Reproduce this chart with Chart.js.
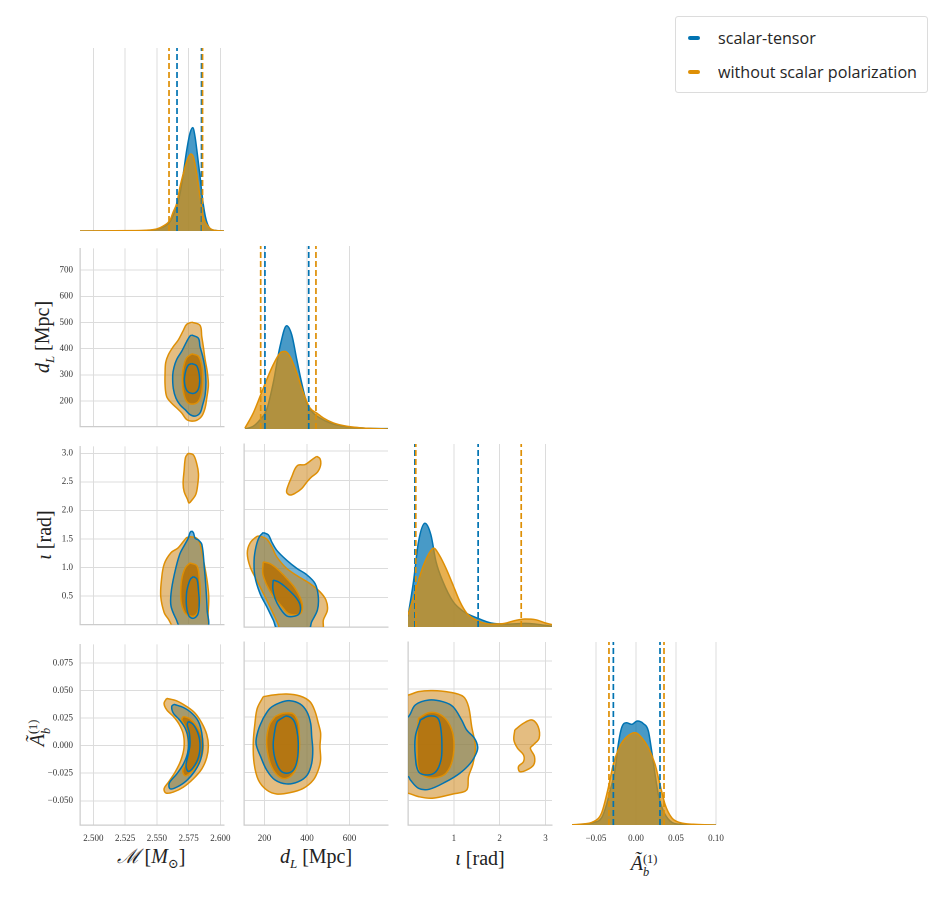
<!DOCTYPE html>
<html><head><meta charset="utf-8">
<script src="https://cdn.jsdelivr.net/npm/chart.js@4.4.1/dist/chart.umd.min.js"></script>
<style>
body{margin:0;background:#fff;width:941px;height:900px;position:relative;overflow:hidden}
canvas{position:absolute}
.lab{position:absolute;font-family:'Liberation Serif','DejaVu Serif',serif;font-size:20px;color:#222;white-space:nowrap;line-height:1}
.rot{transform:translate(-50%,-50%) rotate(-90deg)}
.hor{transform:translate(-50%,-50%)}
.ss{display:inline-block;vertical-align:-0.45em;font-size:0.62em;line-height:1.05;text-align:left}
.ss span{display:block}
#legend{position:absolute;left:675px;top:16px;width:251px;height:75px;border:1px solid #dcdcdc;border-radius:3px;background:#fff}
.li{position:absolute;left:0;height:20px;width:250px}
.sw{position:absolute;left:12px;top:8px;width:12px;height:4px;border-radius:2px}
.lt{position:absolute;left:42px;top:0;font-family:'Open Sans','Noto Sans',sans-serif;font-size:17px;line-height:20px;color:#262626;transform-origin:0 50%;white-space:nowrap}
</style></head><body>
<div id="legend">
  <div class="li" style="top:11px"><span class="sw" style="background:#0173b2"></span><span class="lt" id="lt1">scalar-tensor</span></div>
  <div class="li" style="top:45px"><span class="sw" style="background:#de8f05"></span><span class="lt" id="lt2">without scalar polarization</span></div>
</div>
<div class="lab rot" style="left:44px;top:337px"><i>d</i><sub style="font-size:0.65em"><i>L</i></sub> [Mpc]</div>
<div class="lab rot" style="left:44px;top:535px"><i>ι</i> [rad]</div>
<div class="lab rot" style="left:40px;top:733px"><i>Ã</i><span class="ss"><span>(1)</span><span><i>b</i></span></span></div>
<div class="lab hor" style="left:151px;top:858px"><i>ℳ</i> [<i>M</i><sub style="font-size:0.65em">⊙</sub>]</div>
<div class="lab hor" style="left:316px;top:858px"><i>d</i><sub style="font-size:0.65em"><i>L</i></sub> [Mpc]</div>
<div class="lab hor" style="left:480px;top:858px"><i>ι</i> [rad]</div>
<div class="lab hor" style="left:644px;top:866px"><i>Ã</i><span class="ss"><span>(1)</span><span><i>b</i></span></span></div>
<script>
// ---------------- tick values and labels ----------------
const ticksM = [2.500, 2.525, 2.550, 2.575, 2.600];
const ticksMLabels = ['2.500', '2.525', '2.550', '2.575', '2.600'];
const ticksDx = [200, 400, 600];
const ticksDxLabels = ['200', '400', '600'];
const ticksDy = [200, 300, 400, 500, 600, 700];
const ticksDyLabels = ['200', '300', '400', '500', '600', '700'];
const ticksIx = [1, 2, 3];
const ticksIxLabels = ['1', '2', '3'];
const ticksIy = [0.5, 1.0, 1.5, 2.0, 2.5, 3.0];
const ticksIyLabels = ['0.5', '1.0', '1.5', '2.0', '2.5', '3.0'];
const ticksAx = [-0.05, 0.00, 0.05, 0.10];
const ticksAxLabels = ['\u22120.05', '0.00', '0.05', '0.10'];
const ticksAy = [-0.050, -0.025, 0.000, 0.025, 0.050, 0.075];
const ticksAyLabels = ['\u22120.050', '\u22120.025', '0.000', '0.025', '0.050', '0.075'];

// ---------------- axis ranges ----------------
const rangeM = [2.4895, 2.6029];
const rangeDx = [103.5, 781];
const rangeDy = [102, 783];
const rangeIx = [0, 3.1416];
const rangeIy = [0, 3.12];
const rangeAx = [-0.08, 0.10];
const rangeAy = [-0.072, 0.092];

// ---------------- 1D marginal densities (relative) ----------------
const kdeM_x_blue = [2.4895, 2.5400, 2.5525, 2.5604, 2.5630, 2.5657, 2.5683, 2.5709, 2.5735, 2.5761, 2.5783, 2.5801, 2.5819, 2.5840, 2.5861, 2.5882, 2.5908, 2.5945, 2.6029];
const kdeM_y_blue = [0, 0.002, 0.015, 0.051, 0.087, 0.133, 0.206, 0.315, 0.44, 0.534, 0.565, 0.515, 0.42, 0.30, 0.17, 0.08, 0.024, 0.005, 0];
const kdeM_x_orange = [2.4895, 2.5300, 2.5420, 2.5499, 2.5551, 2.5604, 2.5630, 2.5657, 2.5683, 2.5709, 2.5735, 2.5769, 2.5787, 2.5814, 2.5840, 2.5866, 2.5906, 2.5945, 2.6029];
const kdeM_y_orange = [0, 0.002, 0.004, 0.011, 0.027, 0.06, 0.106, 0.151, 0.242, 0.315, 0.379, 0.421, 0.406, 0.315, 0.188, 0.078, 0.024, 0.005, 0];

const kdeD_x_blue = [108, 147, 179, 210, 241, 273, 304, 328, 352, 375, 399, 430, 461, 508, 571, 681, 781];
const kdeD_y_blue = [0, 0.015, 0.051, 0.105, 0.251, 0.451, 0.564, 0.515, 0.378, 0.251, 0.142, 0.087, 0.06, 0.033, 0.015, 0.004, 0.002];
const kdeD_x_orange = [108, 147, 179, 210, 241, 273, 296, 320, 352, 383, 414, 446, 477, 524, 587, 681, 781];
const kdeD_y_orange = [0.005, 0.087, 0.178, 0.269, 0.351, 0.415, 0.424, 0.396, 0.305, 0.196, 0.115, 0.087, 0.06, 0.033, 0.015, 0.004, 0];

const kdeI_x_blue = [0.0, 0.12, 0.23, 0.37, 0.50, 0.61, 0.76, 0.98, 1.21, 1.51, 1.81, 2.18, 2.55, 2.78, 3.14];
const kdeI_y_blue = [0.058, 0.249, 0.467, 0.567, 0.503, 0.358, 0.249, 0.14, 0.085, 0.049, 0.022, 0.016, 0.02, 0.016, 0.004];
const kdeI_x_orange = [0.0, 0.16, 0.31, 0.46, 0.56, 0.68, 0.83, 0.98, 1.13, 1.28, 1.51, 1.81, 2.11, 2.33, 2.55, 2.78, 3.00, 3.14];
const kdeI_y_orange = [0.067, 0.194, 0.318, 0.403, 0.431, 0.394, 0.32, 0.231, 0.14, 0.076, 0.035, 0.016, 0.02, 0.035, 0.044, 0.04, 0.022, 0.013];

const kdeA_x_blue = [-0.08, -0.07, -0.0533, -0.0429, -0.0367, -0.0325, -0.0263, -0.0221, -0.0179, -0.0117, -0.0054, 0.0017, 0.0092, 0.0154, 0.0196, 0.0238, 0.0279, 0.0342, 0.0425, 0.055, 0.10];
const kdeA_y_blue = [0, 0.003, 0.013, 0.04, 0.113, 0.186, 0.295, 0.441, 0.532, 0.559, 0.55, 0.568, 0.554, 0.514, 0.404, 0.277, 0.168, 0.077, 0.022, 0.004, 0];
const kdeA_x_orange = [-0.08, -0.07, -0.0533, -0.0429, -0.0346, -0.0283, -0.02, -0.0117, -0.0013, 0.0071, 0.0154, 0.0238, 0.03, 0.0363, 0.0446, 0.055, 0.0717, 0.0925, 0.10];
const kdeA_y_orange = [0.001, 0.004, 0.018, 0.067, 0.204, 0.332, 0.432, 0.481, 0.505, 0.477, 0.423, 0.332, 0.222, 0.113, 0.04, 0.013, 0.004, 0.001, 0];

// 90% credible bounds (dashed lines)
const qM_blue = [2.5659, 2.5852], qM_orange = [2.5596, 2.5860];
const qD_blue = [202, 408], qD_orange = [182, 442];
const qI_blue = [0.15, 1.53], qI_orange = [0.17, 2.47];
const qA_blue = [-0.0283, 0.030], qA_orange = [-0.0338, 0.035];

// ---------------- 2D contours ----------------
// M vs dL
const mdOrangeOuter = [[2.5775,501],[2.5840,489],[2.5854,446],[2.5866,408],[2.5880,359],[2.5898,309],[2.5906,260],[2.5893,210],[2.5880,173],[2.5854,142],[2.5814,126],[2.5775,123],[2.5735,129],[2.5696,154],[2.5657,173],[2.5617,191],[2.5578,216],[2.5565,260],[2.5565,309],[2.5570,347],[2.5591,377],[2.5630,408],[2.5669,433],[2.5709,470],[2.5735,493]];
const mdBlueOuter = [[2.5775,452],[2.5827,440],[2.5840,408],[2.5861,371],[2.5880,322],[2.5887,272],[2.5880,222],[2.5861,185],[2.5840,154],[2.5801,142],[2.5761,148],[2.5722,167],[2.5683,185],[2.5651,210],[2.5630,247],[2.5625,297],[2.5635,328],[2.5657,359],[2.5696,390],[2.5735,427],[2.5761,448]];
const mdOrangeInner = [[2.5775,380],[2.5827,371],[2.5854,334],[2.5861,284],[2.5854,235],[2.5827,198],[2.5775,188],[2.5735,198],[2.5709,235],[2.5701,284],[2.5709,328],[2.5735,365]];
const mdBlueInner = [[2.5775,343],[2.5814,334],[2.5835,297],[2.5835,260],[2.5814,235],[2.5775,229],[2.5735,241],[2.5717,278],[2.5728,315],[2.5748,337]];
// M vs iota
const miOrangeIsland = [[2.5747,3.0],[2.5788,2.97],[2.5815,2.81],[2.5828,2.64],[2.5823,2.47],[2.5807,2.28],[2.5769,2.16],[2.5753,2.13],[2.5742,2.19],[2.5715,2.33],[2.5707,2.47],[2.5715,2.70],[2.5726,2.93]];
const miOrangeOuter = [[2.5761,1.54],[2.5815,1.51],[2.5842,1.40],[2.5869,1.11],[2.5896,0.77],[2.5909,0.49],[2.5904,0.21],[2.5890,-0.05],[2.5640,-0.05],[2.5590,0.10],[2.5558,0.21],[2.5531,0.49],[2.5536,0.77],[2.5558,1.06],[2.5612,1.26],[2.5666,1.34],[2.5707,1.45],[2.5734,1.52]];
const miBlueOuter = [[2.5774,1.64],[2.5788,1.61],[2.5802,1.51],[2.5828,1.48],[2.5855,1.40],[2.5874,1.0],[2.5888,0.60],[2.5896,0.26],[2.5896,-0.05],[2.5690,-0.05],[2.5653,0.09],[2.5612,0.32],[2.5612,0.55],[2.5639,0.89],[2.5680,1.23],[2.5720,1.40],[2.5747,1.51],[2.5761,1.61]];
const miOrangeInner = [[2.5761,1.08],[2.5815,1.03],[2.5834,0.83],[2.5842,0.55],[2.5828,0.26],[2.5802,0.16],[2.5761,0.15],[2.5720,0.21],[2.5693,0.38],[2.5688,0.60],[2.5699,0.83],[2.5726,1.0]];
const miBlueInner = [[2.5788,0.84],[2.5815,0.80],[2.5828,0.60],[2.5834,0.38],[2.5823,0.18],[2.5788,0.11],[2.5753,0.15],[2.5734,0.32],[2.5734,0.55],[2.5747,0.69],[2.5766,0.80]];
// dL vs iota
const diOrangeIsland = [[446,2.91],[461,2.87],[464,2.76],[449,2.64],[422,2.56],[399,2.47],[375,2.36],[344,2.28],[320,2.25],[304,2.30],[312,2.42],[328,2.56],[344,2.70],[359,2.76],[391,2.77],[422,2.85]];
const diOrangeOuter = [[179,1.55],[210,1.50],[234,1.37],[257,1.20],[304,1.0],[359,0.86],[414,0.74],[461,0.60],[489,0.46],[496,0.29],[477,0.12],[470,-0.05],[275,-0.05],[265,0.04],[241,0.23],[202,0.52],[163,0.80],[132,1.03],[119,1.26],[132,1.43],[163,1.54]];
const diBlueOuter = [[194,1.61],[218,1.57],[234,1.45],[257,1.31],[304,1.14],[352,1.0],[399,0.89],[438,0.74],[453,0.52],[449,0.29],[422,0.09],[406,-0.05],[265,-0.05],[241,0.12],[210,0.35],[179,0.57],[155,0.86],[151,1.14],[160,1.37],[176,1.54]];
const diOrangeInner = [[194,1.11],[226,1.08],[257,1.0],[304,0.83],[344,0.66],[375,0.43],[375,0.26],[352,0.21],[312,0.23],[281,0.35],[241,0.52],[210,0.72],[192,0.91]];
const diBlueInner = [[241,0.80],[265,0.77],[296,0.69],[344,0.52],[367,0.38],[364,0.23],[336,0.18],[304,0.19],[273,0.32],[249,0.49],[239,0.66]];
// M vs A
const maOrangeOuter = [[2.5578,0.0430],[2.5657,0.0407],[2.5735,0.0356],[2.5801,0.0296],[2.5854,0.0206],[2.5893,0.0102],[2.5906,0.0],[2.5893,-0.0108],[2.5854,-0.0211],[2.5787,-0.0301],[2.5709,-0.0376],[2.5630,-0.0421],[2.5572,-0.0430],[2.5557,-0.0391],[2.5591,-0.0332],[2.5643,-0.0242],[2.5688,-0.0137],[2.5714,-0.0018],[2.5709,0.0102],[2.5677,0.0192],[2.5630,0.0266],[2.5578,0.0326],[2.5557,0.0385]];
const maBlueOuter = [[2.5635,0.0376],[2.5709,0.0347],[2.5775,0.0296],[2.5827,0.0221],[2.5854,0.0116],[2.5861,0.0],[2.5846,-0.0122],[2.5801,-0.0227],[2.5735,-0.0316],[2.5657,-0.0376],[2.5604,-0.0391],[2.5598,-0.0340],[2.5657,-0.0256],[2.5709,-0.0167],[2.5743,-0.0063],[2.5748,0.0057],[2.5722,0.0161],[2.5677,0.0237],[2.5630,0.0296],[2.5617,0.0356]];
const maOrangeInner = [[2.5709,0.0266],[2.5761,0.0245],[2.5814,0.0177],[2.5854,0.0087],[2.5866,0.0],[2.5854,-0.0092],[2.5814,-0.0182],[2.5761,-0.0251],[2.5722,-0.0272],[2.5704,-0.0227],[2.5735,-0.0137],[2.5748,-0.0018],[2.5740,0.0102],[2.5722,0.0177],[2.5696,0.0237]];
const maBlueInner = [[2.5748,0.0221],[2.5787,0.0192],[2.5827,0.0102],[2.5840,0.0],[2.5827,-0.0108],[2.5787,-0.0197],[2.5748,-0.0233],[2.5730,-0.0182],[2.5748,-0.0077],[2.5761,0.0013],[2.5756,0.0116],[2.5740,0.0192]];
// dL vs A
const daOrangeOuter = [[194,0.0430],[241,0.0445],[304,0.0454],[367,0.0436],[414,0.0385],[438,0.0296],[453,0.0192],[464,0.0102],[461,-0.0018],[464,-0.0137],[453,-0.0227],[430,-0.0316],[383,-0.0391],[320,-0.0430],[257,-0.0442],[210,-0.0406],[171,-0.0316],[151,-0.0167],[147,0.0013],[155,0.0192],[166,0.0326]];
const daBlueOuter = [[194,0.0237],[226,0.0326],[273,0.0376],[320,0.0394],[367,0.0365],[399,0.0296],[417,0.0192],[422,0.0072],[427,-0.0047],[422,-0.0167],[401,-0.0272],[359,-0.0332],[304,-0.0352],[249,-0.0316],[210,-0.0227],[182,-0.0108],[160,0.0013],[171,0.0132]];
const daOrangeInner = [[249,0.0251],[288,0.0281],[336,0.0275],[359,0.0192],[364,0.0072],[364,-0.0047],[352,-0.0197],[320,-0.0287],[281,-0.0301],[241,-0.0227],[218,-0.0108],[210,0.0042],[223,0.0177]];
const daBlueInner = [[281,0.0237],[304,0.0257],[336,0.0221],[352,0.0132],[359,0.0013],[354,-0.0137],[336,-0.0227],[304,-0.0256],[273,-0.0227],[249,-0.0122],[241,0.0],[249,0.0132],[260,0.0206]];
// iota vs A
const iaOrangeOuter = [[-0.1,0.0445],[0.01,0.0445],[0.23,0.0475],[0.53,0.0484],[0.91,0.0470],[1.21,0.0430],[1.32,0.0341],[1.39,0.0161],[1.47,-0.0018],[1.42,-0.0167],[1.32,-0.0287],[1.28,-0.0406],[0.98,-0.0442],[0.53,-0.0480],[0.23,-0.0466],[0.01,-0.0436],[-0.1,-0.0436]];
const iaOrangeIsland = [[2.33,0.0132],[2.52,0.0192],[2.71,0.0221],[2.84,0.0161],[2.86,0.0057],[2.74,0.0],[2.67,-0.0032],[2.76,-0.0108],[2.74,-0.0182],[2.59,-0.0227],[2.44,-0.0242],[2.41,-0.0197],[2.52,-0.0152],[2.52,-0.0092],[2.39,-0.0032],[2.31,0.0042]];
const iaBlueOuter = [[-0.1,0.0251],[0.01,0.0251],[0.16,0.0356],[0.46,0.0400],[0.76,0.0385],[0.98,0.0341],[1.17,0.0221],[1.28,0.0132],[1.45,0.0057],[1.52,-0.0018],[1.49,-0.0077],[1.36,-0.0167],[1.13,-0.0256],[0.83,-0.0332],[0.46,-0.0400],[0.23,-0.0391],[0.05,-0.0316],[0.01,-0.0287],[-0.1,-0.0287]];
const iaOrangeInner = [[0.23,0.0237],[0.46,0.0287],[0.72,0.0266],[0.91,0.0177],[1.0,0.0042],[0.97,-0.0137],[0.83,-0.0256],[0.61,-0.0296],[0.38,-0.0287],[0.23,-0.0227],[0.20,-0.0077],[0.20,0.0102]];
const iaBlueInner = [[0.27,0.0221],[0.46,0.0257],[0.65,0.0237],[0.72,0.0132],[0.74,-0.0018],[0.72,-0.0137],[0.61,-0.0242],[0.42,-0.0272],[0.23,-0.0242],[0.16,-0.0108],[0.16,0.0072]];

// ---------------- styling ----------------
const BLUE = '#0173b2', ORANGE = '#de8f05';
const GRID = '#dcdcdc', SPINE = '#cccccc';
const FILL_BLUE_OUT = 'rgba(1,115,178,0.55)';
const FILL_OR_OUT = 'rgba(205,135,25,0.55)';
const FILL_OR_IN = 'rgba(182,112,2,0.85)';
const KDE_BLUE = 'rgba(1,115,178,0.72)';
const KDE_OR = 'rgba(222,143,5,0.7)';
const colLeft = [80, 244, 408, 572], rowTop = [48, 246, 444, 642];
const PW = 144, PH = 183;
const xInfo = [
  {range: rangeM, ticks: ticksM, labels: ticksMLabels},
  {range: rangeDx, ticks: ticksDx, labels: ticksDxLabels},
  {range: rangeIx, ticks: ticksIx, labels: ticksIxLabels},
  {range: rangeAx, ticks: ticksAx, labels: ticksAxLabels}
];
const yInfo = [
  null,
  {range: rangeDy, ticks: ticksDy, labels: ticksDyLabels},
  {range: rangeIy, ticks: ticksIy, labels: ticksIyLabels},
  {range: rangeAy, ticks: ticksAy, labels: ticksAyLabels}
];
const tickFont = {family: "'Liberation Serif', 'DejaVu Serif', serif", size: 9};

function poly(points, fillColor, lineColor, order) {
  const pts = points.concat([points[0]]).map(p => ({x: p[0], y: p[1]}));
  return {
    data: pts, showLine: true, fill: fillColor ? 'shape' : false,
    backgroundColor: fillColor || 'rgba(0,0,0,0)',
    borderColor: lineColor || 'rgba(0,0,0,0)', borderWidth: lineColor ? 1.5 : 0,
    pointRadius: 0, tension: 0.35, clip: 0, order
  };
}
function kde(xs, ys, line, fillColor, order) {
  return {
    data: xs.map((x, i) => ({x, y: ys[i]})), borderColor: line, backgroundColor: fillColor,
    fill: 'origin', borderWidth: 1.5, pointRadius: 0, cubicInterpolationMode: 'monotone', clip: 0, order
  };
}
function vline(q, color, order) {
  return {data: [{x: q, y: 0}, {x: q, y: 1}], borderColor: color, borderDash: [6, 3], borderWidth: 1.7,
    pointRadius: 0, fill: false, tension: 0, clip: 0, order};
}
function contourSet(orOuter, blOuter, orInner, blInner, islands) {
  const ds = [];
  ds.push(poly(blOuter, FILL_BLUE_OUT, null, 9));
  ds.push(poly(orOuter, FILL_OR_OUT, null, 8));
  (islands || []).forEach(isl => ds.push(poly(isl, FILL_OR_OUT, null, 8)));
  ds.push(poly(orInner, FILL_OR_IN, null, 7));
  ds.push(poly(orOuter, null, ORANGE, 4));
  (islands || []).forEach(isl => ds.push(poly(isl, null, ORANGE, 4)));
  ds.push(poly(orInner, null, ORANGE, 3));
  ds.push(poly(blOuter, null, BLUE, 2));
  ds.push(poly(blInner, null, BLUE, 1));
  return ds;
}
function diagSet(xb, yb, xo, yo, qb, qo) {
  const ds = [kde(xb, yb, BLUE, KDE_BLUE, 6), kde(xo, yo, ORANGE, KDE_OR, 5)];
  qb.forEach(q => ds.push(vline(q, BLUE, 1)));
  qo.forEach(q => ds.push(vline(q, ORANGE, 0)));
  return ds;
}

function makeChart(r, c, datasets) {
  const diag = r === c;
  const showX = r === 3, showY = c === 0 && r > 0;
  const yW = showY ? 60 : 0, xH = showX ? 28 : 0;
  const PADL = 10, PADR = 22, PADT = 10, PADB = 10;
  const cv = document.createElement('canvas');
  cv.width = PADL + yW + PW + PADR;
  cv.height = PADT + PH + xH + PADB;
  cv.style.left = (colLeft[c] - yW - PADL) + 'px';
  cv.style.top = (rowTop[r] - PADT) + 'px';
  document.body.appendChild(cv);
  const xi = xInfo[c];
  const scales = {
    x: {
      type: 'linear', position: 'bottom', min: xi.range[0], max: xi.range[1], bounds: 'data',
      afterBuildTicks: ax => { ax.ticks = xi.ticks.map(v => ({value: v})); },
      afterFit: ax => { ax.height = xH; },
      ticks: {display: showX, autoSkip: false, maxRotation: 0, padding: 8, color: '#333', font: tickFont,
        callback: (v, i) => xi.labels[i]},
      grid: {color: GRID, lineWidth: 1, drawTicks: false},
      border: {display: !diag, color: SPINE, width: 1.25}
    }
  };
  if (diag) {
    scales.y = {type: 'linear', display: false, min: 0, max: 1};
  } else {
    const yi = yInfo[r];
    scales.y = {
      type: 'linear', position: 'left', min: yi.range[0], max: yi.range[1], bounds: 'data',
      afterBuildTicks: ax => { ax.ticks = yi.ticks.map(v => ({value: v})); },
      afterFit: ax => { ax.width = yW; },
      ticks: {display: showY, autoSkip: false, padding: 7, color: '#333', font: tickFont,
        callback: (v, i) => yi.labels[i]},
      grid: {color: GRID, lineWidth: 1, drawTicks: false},
      border: {display: true, color: SPINE, width: 1.25}
    };
  }
  new Chart(cv, {
    type: 'line',
    data: {datasets},
    options: {
      responsive: false, animation: false, devicePixelRatio: 2,
      layout: {padding: {left: PADL, right: PADR, top: PADT, bottom: PADB}},
      plugins: {legend: {display: false}, tooltip: {enabled: false}},
      scales
    }
  });
}

makeChart(0, 0, diagSet(kdeM_x_blue, kdeM_y_blue, kdeM_x_orange, kdeM_y_orange, qM_blue, qM_orange));
makeChart(1, 0, contourSet(mdOrangeOuter, mdBlueOuter, mdOrangeInner, mdBlueInner));
makeChart(1, 1, diagSet(kdeD_x_blue, kdeD_y_blue, kdeD_x_orange, kdeD_y_orange, qD_blue, qD_orange));
makeChart(2, 0, contourSet(miOrangeOuter, miBlueOuter, miOrangeInner, miBlueInner, [miOrangeIsland]));
makeChart(2, 1, contourSet(diOrangeOuter, diBlueOuter, diOrangeInner, diBlueInner, [diOrangeIsland]));
makeChart(2, 2, diagSet(kdeI_x_blue, kdeI_y_blue, kdeI_x_orange, kdeI_y_orange, qI_blue, qI_orange));
makeChart(3, 0, contourSet(maOrangeOuter, maBlueOuter, maOrangeInner, maBlueInner));
makeChart(3, 1, contourSet(daOrangeOuter, daBlueOuter, daOrangeInner, daBlueInner));
makeChart(3, 2, contourSet(iaOrangeOuter, iaBlueOuter, iaOrangeInner, iaBlueInner, [iaOrangeIsland]));
makeChart(3, 3, diagSet(kdeA_x_blue, kdeA_y_blue, kdeA_x_orange, kdeA_y_orange, qA_blue, qA_orange));

// fit legend text widths to the reference box
(function () {
  const t2 = document.getElementById('lt2'), t1 = document.getElementById('lt1');
  const s = 199 / t2.getBoundingClientRect().width;
  t1.style.transform = t2.style.transform = 'scaleX(' + s.toFixed(3) + ')';
})();
</script>
</body></html>
